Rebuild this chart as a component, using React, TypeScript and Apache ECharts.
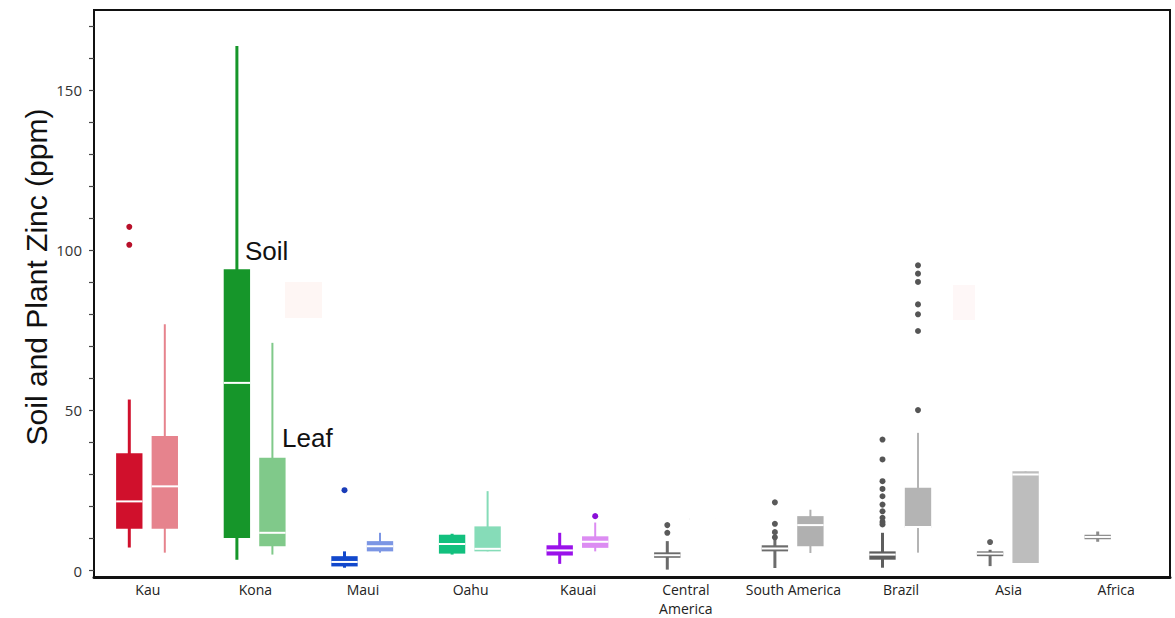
import React, { useEffect, useRef } from 'react';
import * as echarts from 'echarts';

const categories = ['Kau', 'Kona', 'Maui', 'Oahu', 'Kauai', 'Central\nAmerica', 'South America', 'Brazil', 'Asia', 'Africa'];

// [min, Q1, median, Q3, max] per category (ppm)
const soilStats: (number[] | null)[] = [
  [7.2, 13.1, 21.6, 36.6, 53.4],
  [3.4, 10.2, 58.6, 94.1, 163.8],
  [0.9, 1.3, 2.7, 4.5, 6.0],
  [5.0, 5.3, 8.3, 11.2, 11.5],
  [2.1, 4.7, 6.3, 7.9, 11.8],
  [0.3, 4.0, 4.8, 5.7, 9.2],
  [0.8, 6.0, 6.9, 7.9, 9.7],
  [0.9, 3.4, 5.0, 6.0, 11.8],
  [1.4, 4.5, 5.3, 6.0, 6.5],
  [9.0, 9.8, 10.5, 11.2, 12.2],
];

const leafStats: (number[] | null)[] = [
  [5.6, 13.1, 26.3, 42.0, 76.9],
  [5.0, 7.6, 11.8, 35.2, 71.1],
  [5.6, 6.0, 7.6, 9.2, 11.8],
  [6.0, 6.0, 6.8, 13.8, 24.8],
  [6.0, 7.1, 9.0, 10.7, 15.0],
  [15.8, 15.8, 16.1, 16.4, 16.4],
  [5.5, 7.6, 14.2, 17.0, 19.0],
  [5.6, 13.4, 13.6, 25.9, 43.0],
  [2.4, 2.4, 30.0, 31.0, 31.0],
  null,
];

// [categoryIndex, value]
const soilOutliers: [number, number][] = [
  [0, 107.3], [0, 101.7],
  [2, 25.1],
  [5, 14.2], [5, 11.8],
  [6, 21.3], [6, 14.6], [6, 12.0], [6, 10.4],
  [7, 40.9], [7, 34.7], [7, 27.9], [7, 25.5], [7, 23.2], [7, 20.6], [7, 18.5], [7, 16.5], [7, 15.2], [7, 14.4],
  [8, 8.9],
];

const leafOutliers: [number, number][] = [
  [4, 17.0],
  [7, 95.3], [7, 92.7], [7, 90.1], [7, 83.1], [7, 80.0], [7, 74.8], [7, 50.1],
];

const yLabelValues = [0, 50, 100, 150];
const yTickValues = [0, 10, 20, 30, 40, 50, 60, 70, 80, 90, 100, 110, 120, 130, 140, 150, 160, 170];

const soilColors = ['#d0102c', '#16962a', '#1248cc', '#12c07e', '#9a12ea', '#6a6a6a', '#6c6c6c', '#5e5e5e', '#6e6e6e', '#8c8c8c'];
const leafColors = ['#e6838d', '#80c98a', '#7c96e4', '#86dcb8', '#dc8cf2', '#dadada', '#b0b0b0', '#b4b4b4', '#bdbdbd', '#bdbdbd'];
const soilOutlierColors = ['#b8102a', '#16962a', '#1a3cb8', '#12c07e', '#9a12ea', '#5a5a5a', '#5a5a5a', '#555555', '#606060', '#8c8c8c'];
const leafOutlierColors = ['#e6838d', '#80c98a', '#7c96e4', '#86dcb8', '#8a10d8', '#bdbdbd', '#b0b0b0', '#555555', '#bdbdbd', '#bdbdbd'];

function boxSeries(name: string, stats: (number[] | null)[], colors: string[], offsetFrac: number, whiskerWidth: number) {
  const data = stats
    .map((s, i) => (s ? [i, ...s] : null))
    .filter((d) => d !== null);
  return {
    type: 'custom',
    name,
    data,
    encode: { x: 0, y: [1, 2, 3, 4, 5] },
    renderItem: (params: any, api: any) => {
      const cat = api.value(0);
      const band = api.size([1, 0])[0];
      const x = api.coord([cat, 0])[0] + offsetFrac * band;
      const w = band * 0.245;
      const yv = (k: number) => api.coord([cat, api.value(k)])[1];
      const yMin = yv(1), yQ1 = yv(2), yMed = yv(3), yQ3 = yv(4), yMax = yv(5);
      const color = colors[cat];
      return {
        type: 'group',
        children: [
          { type: 'line', shape: { x1: x, y1: yMax, x2: x, y2: yMin }, style: { stroke: color, lineWidth: whiskerWidth } },
          { type: 'rect', shape: { x: x - w / 2, y: yQ3, width: w, height: Math.max(yQ1 - yQ3, 1.5) }, style: { fill: color } },
          { type: 'line', shape: { x1: x - w / 2, y1: yMed, x2: x + w / 2, y2: yMed }, style: { stroke: '#ffffff', lineWidth: 2 } },
        ],
      };
    },
  };
}

function outlierSeries(name: string, pts: [number, number][], colors: string[], offsetFrac: number) {
  return {
    type: 'custom',
    name,
    data: pts,
    encode: { x: 0, y: 1 },
    renderItem: (params: any, api: any) => {
      const cat = api.value(0);
      const band = api.size([1, 0])[0];
      const p = api.coord([cat, api.value(1)]);
      return {
        type: 'circle',
        shape: { cx: p[0] + offsetFrac * band, cy: p[1], r: 3 },
        style: { fill: colors[cat] },
      };
    },
  };
}

export default function App() {
  const ref = useRef<HTMLDivElement>(null);
  useEffect(() => {
    if (!ref.current) return;
    const chart = echarts.init(ref.current, null, { renderer: 'svg' });
    const soilOff = -0.172;
    const leafOff = 0.158;
    chart.setOption({
      animation: false,
      backgroundColor: '#ffffff',
      grid: {
        left: 94, right: 5, top: 10, bottom: 41,
        outerBoundsMode: 'none', containLabel: false,
        show: true, borderColor: '#111111', borderWidth: 2, backgroundColor: 'transparent',
      },
      xAxis: {
        type: 'category',
        data: categories,
        axisLine: { show: true, onZero: false, lineStyle: { color: '#111111', width: 3 } },
        axisTick: { show: false },
        axisLabel: { color: '#222222', fontFamily: 'Open Sans', fontSize: 14, margin: 3, lineHeight: 19, interval: 0 },
        splitLine: { show: false },
      },
      yAxis: {
        type: 'value',
        min: -2,
        max: 175,
        axisLine: { show: true, onZero: false, lineStyle: { color: '#111111', width: 2 } },
        axisTick: { show: true, inside: false, length: 5, customValues: yTickValues, lineStyle: { color: '#444444', width: 1.2 } },
        axisLabel: { customValues: yLabelValues, color: '#333333', fontFamily: 'Open Sans', fontSize: 15, margin: 12 },
        splitLine: { show: false },
      },
      graphic: [
        { type: 'rect', shape: { x: 285, y: 282, width: 37, height: 36 }, style: { fill: '#fef6f4' }, silent: true, z: -1 },
        { type: 'rect', shape: { x: 953, y: 285, width: 22, height: 35 }, style: { fill: '#fef7f7' }, silent: true, z: -1 },
        {
          type: 'text', x: 36, y: 277, rotation: Math.PI / 2,
          style: { text: 'Soil and Plant Zinc (ppm)', fontFamily: 'Liberation Sans', fontSize: 30, fill: '#111111', align: 'center', verticalAlign: 'middle' },
        },
        { type: 'text', left: 245, top: 238, style: { text: 'Soil', fontFamily: 'Liberation Sans', fontSize: 26, fill: '#111111' } },
        { type: 'text', left: 282, top: 425, style: { text: 'Leaf', fontFamily: 'Liberation Sans', fontSize: 26, fill: '#111111' } },
      ],
      series: [
        boxSeries('Soil', soilStats, soilColors, soilOff, 3),
        boxSeries('Leaf', leafStats, leafColors, leafOff, 2),
        outlierSeries('Soil outliers', soilOutliers, soilOutlierColors, soilOff),
        outlierSeries('Leaf outliers', leafOutliers, leafOutlierColors, leafOff),
      ],
    });
    return () => chart.dispose();
  }, []);
  return <div ref={ref} style={{ width: 1175, height: 618, position: 'absolute', left: 0, top: 0 }} />;
}
